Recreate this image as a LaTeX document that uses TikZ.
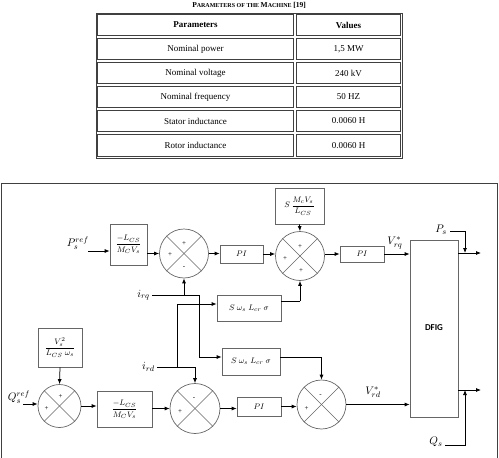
\documentclass[tikz,border=0pt]{standalone}
\usepackage{fontspec}
\setmainfont{Liberation Serif}
\newfontfamily\dfigfont{Carlito}
\usetikzlibrary{arrows.meta,calc}
\begin{document}
\begin{tikzpicture}[x=1pt,y=-1pt,
  cell/.style={draw=black!75,line width=0.7pt},
  ttxt/.style={font=\fontsize{9}{10}\selectfont,inner sep=0},
  blk/.style={draw=black!60,line width=0.7pt,inner sep=0,font=\fontsize{8.5}{9}\selectfont},
  sumc/.style={circle,draw=black!60,line width=0.7pt,inner sep=0,minimum size=#1},
  xline/.style={draw=black!60,line width=0.7pt},
  sgn/.style={font=\fontsize{7}{7}\selectfont,inner sep=0},
  lbl/.style={font=\fontsize{11}{12}\selectfont,inner sep=0},
  wire/.style={draw=black,line width=0.75pt},
  arr/.style={wire,-{Latex[length=5pt,width=4pt]}}]
\useasboundingbox (0,0) rectangle (499,458);

% ---------- table ----------
\node[inner sep=0,font=\bfseries] (title) at (249,5)
  {\fontsize{7.5}{8}\selectfont P\fontsize{6}{7}\selectfont ARAMETERS OF THE \fontsize{7.5}{8}\selectfont M\fontsize{6}{7}\selectfont ACHINE \fontsize{7.5}{8}\selectfont [19]};
\draw[cell] (96,13) rectangle (402,158);
\foreach \ya/\yb in {13/37,37/61,61/85,85/109,109/133,133/158}{
  \draw[cell] (97.5,\ya+1.5) rectangle (293.5,\yb-1.5);
  \draw[cell] (296.5,\ya+1.5) rectangle (400.5,\yb-1.5);
}
\node[ttxt,font=\fontsize{9}{10}\selectfont\bfseries] (h1) at (195.5,25) {Parameters};
\node[ttxt,font=\fontsize{9}{10}\selectfont\bfseries] (h2) at (348.5,25) {Values};
\node[ttxt] (r1a) at (195.5,49) {Nominal power};
\node[ttxt] (r1b) at (348.5,49) {1,5 MW};
\node[ttxt] (r2a) at (195.5,73) {Nominal voltage};
\node[ttxt] (r2b) at (348.5,73) {240 kV};
\node[ttxt] (r3a) at (195.5,97) {Nominal frequency};
\node[ttxt] (r3b) at (348.5,97) {50 HZ};
\node[ttxt] (r4a) at (195.5,121) {Stator inductance};
\node[ttxt] (r4b) at (348.5,121) {0.0060 H};
\node[ttxt] (r5a) at (195.5,145.5) {Rotor inductance};
\node[ttxt] (r5b) at (348.5,145.5) {0.0060 H};

% ---------- frame ----------
\draw[draw=black!75,line width=1pt] (1,460) -- (1,183) -- (497,183) -- (497,460);

% ---------- top row ----------
\node[lbl,anchor=east] (pref) at (89,243) {$P_s^{ref}$};
\coordinate (pa) at (88,251);
\node[blk,minimum width=37,minimum height=41] (bx1) at (128.5,244.5) {$\displaystyle\frac{-L_{CS}}{M_C V_s}$};
\node[sumc=49] (c1) at (184,253.5) {};
\node[blk,minimum width=43,minimum height=18] (pi1) at (241.5,254) {$PI$};
\node[sumc=49] (c2) at (300,256) {};
\node[blk,minimum width=49,minimum height=36] (sbt) at (299.5,206) {$S\,\displaystyle\frac{M_c V_s}{L_{CS}}$};
\node[blk,minimum width=44,minimum height=16] (pi2) at (362,254) {$PI$};
\node[lbl] (vrq) at (395,243) {$V_{rq}^{*}$};
\node[draw=black!60,line width=0.7pt,minimum width=48,minimum height=177,inner sep=0] (dfig) at (434,328.5) {};
\node[inner sep=0,font=\dfigfont\bfseries\fontsize{9}{10}\selectfont] (dfigl) at (434,328) {DFIG};
\node[lbl,anchor=east] (ps) at (447,230) {$P_s$};
\coordinate (pb) at (450,231);
\coordinate (pj) at (465,253);
\coordinate (op) at (481,253);

% ---------- middle ----------
\node[lbl,anchor=east] (irq) at (150,295) {$i_{rq}$};
\coordinate (jq) at (152,295);
\coordinate (kq) at (199,357);
\node[blk,minimum width=64,minimum height=26] (sb1) at (249,308) {$S\ \omega_s\ L_{cr}\ \sigma$};
\coordinate (ks1) at (281,301);
\node[blk,minimum width=58,minimum height=27] (sb2) at (251,361.5) {$S\ \omega_s\ L_{cr}\ \sigma$};
\node[lbl,anchor=east] (ird) at (155,367) {$i_{rd}$};
\coordinate (jd) at (157,367);
\coordinate (kd) at (177,304);

% ---------- bottom row ----------
\node[blk,minimum width=44,minimum height=39] (vbx) at (60,347.5) {$\displaystyle\frac{V_s^2}{L_{CS}\ \omega_s}$};
\node[lbl] (qref) at (19,397) {$Q_s^{ref}$};
\coordinate (qa) at (23,404);
\node[sumc=43] (c3) at (59.5,406) {};
\node[blk,minimum width=55,minimum height=36] (bx2) at (124.5,409.5) {$\displaystyle\frac{-L_{CS}}{M_C V_s}$};
\node[sumc=50] (c4) at (195,408.5) {};
\node[blk,minimum width=44,minimum height=19] (pi3) at (259,406.5) {$PI$};
\node[sumc=49] (c5) at (321.5,404.5) {};
\node[lbl] (vrd) at (373,392) {$V_{rd}^{*}$};
\node[lbl] (qs) at (436,442) {$Q_s$};
\coordinate (qb) at (445,445);
\coordinate (qj) at (465,390);
\coordinate (oq) at (481,390);

% ---------- crosses and signs ----------
\foreach \c in {c1,c2,c3,c4,c5}{
  \draw[xline] (\c.45) -- (\c.225);
  \draw[xline] (\c.135) -- (\c.315);
}
\node[sgn] (s1t) at ($(c1)+(0,-10)$) {+};
\node[sgn] (s1l) at ($(c1)+(-14,1)$) {+};
\node[sgn] (s1b) at ($(c1)+(0,14)$) {-};
\node[sgn] (s2t) at ($(c2)+(0,-9)$) {+};
\node[sgn] (s2l) at ($(c2)+(-15,3)$) {+};
\node[sgn] (s2b) at ($(c2)+(1,15)$) {+};
\node[sgn] (s3t) at ($(c3)+(1,-9)$) {+};
\node[sgn] (s3l) at ($(c3)+(-13,3)$) {+};
\node[sgn] (s4t) at ($(c4)+(-1,-10)$) {-};
\node[sgn] (s4l) at ($(c4)+(-15,3)$) {+};
\node[sgn] (s5t) at ($(c5)+(-1,-9)$) {-};
\node[sgn] (s5l) at ($(c5)+(-15,4)$) {+};

% ---------- connectors ----------
\draw[arr] (pa) -- (pa -| bx1.west);
\draw[arr] (bx1.east |- c1) -- (c1.west);
\draw[arr] (c1.east) -- (c1.east -| pi1.west);
\draw[arr] (pi1.east) -- (pi1.east -| c2.west);
\draw[arr] (sbt.south) -- (c2.north);
\draw[arr] (pi2.west -| c2.east) -- (pi2.west);
\draw[arr] (pi2.east) -- (pi2.east -| dfig.west);
\draw[arr] (op -| dfig.east) -- (op);
\draw[arr] (pb) -| (pj);

\draw[wire] (jq) -| (kq);
\draw[arr] (kq) -- (kq -| sb2.west);
\draw[arr] (c1.south |- jq) -- (c1.south);
\draw[wire] (jd) -- (jd -| c4.north);
\draw[arr] (jd -| c4.north) -- (c4.north);
\draw[wire] (jd -| kd) -- (kd);
\draw[arr] (kd) -- (kd -| sb1.west);
\draw[wire] (ks1) -- (ks1 -| c2.south);
\draw[arr] (ks1 -| c2.south) -- (c2.south);
\draw[wire] (kq -| sb2.east) -- (kq -| c5.north);
\draw[arr] (kq -| c5.north) -- (c5.north);

\draw[arr] (vbx.south) -- (c3.north);
\draw[arr] (qa) -- (qa -| c3.west);
\draw[arr] (c3.east) -- (c3.east -| bx2.west);
\draw[arr] (bx2.east |- c4) -- (c4.west);
\draw[arr] (c4.east) -- (c4.east -| pi3.west);
\draw[arr] (pi3.east) -- (pi3.east -| c5.west);
\draw[arr] (c5.east) -- (c5.east -| dfig.west);
\draw[arr] (oq -| dfig.east) -- (oq);
\draw[arr] (qb) -| (qj);
\end{tikzpicture}
\end{document}
